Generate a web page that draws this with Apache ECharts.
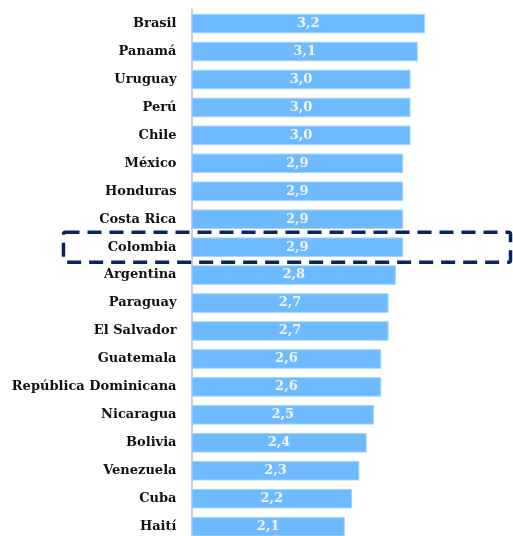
<!DOCTYPE html>
<html><head><meta charset="utf-8">
<script src="https://cdn.jsdelivr.net/npm/echarts@6/dist/echarts.min.js"></script>
<style>html,body{margin:0;padding:0;background:#fff}#c{width:513px;height:536px}</style>
</head><body><div id="c"></div>
<script>
const categories = ["Brasil","Panamá","Uruguay","Perú","Chile","México","Honduras","Costa Rica","Colombia","Argentina","Paraguay","El Salvador","Guatemala","República Dominicana","Nicaragua","Bolivia","Venezuela","Cuba","Haití"];
const values = [3.2,3.1,3.0,3.0,3.0,2.9,2.9,2.9,2.9,2.8,2.7,2.7,2.6,2.6,2.5,2.4,2.3,2.2,2.1];
const highlight = "Colombia";

const chart = echarts.init(document.getElementById('c'), null, {renderer:'canvas'});
const font = '"DejaVu Serif", serif';
chart.setOption({
  animation:false,
  grid:{left:191.5, top:9.6, width:292, height:531, outerBoundsMode:'none', containLabel:false},
  xAxis:{type:'value', min:0, max:4, show:false},
  yAxis:{type:'category', data:categories, inverse:true,
    axisLine:{show:true, lineStyle:{color:'#c8c8f2', width:2}},
    axisTick:{show:false},
    axisLabel:{margin:15, color:'#111', fontFamily:font, fontWeight:'bold', fontSize:13}
  },
  series:[{type:'bar', data:values, barWidth:19.5,
    itemStyle:{color:'#6ebaff', borderColor:'#a6d3ff', borderWidth:1},
    label:{show:true, position:'inside', color:'#f4f4fa', fontFamily:font, fontWeight:'bold', fontSize:13,
      formatter:p=>p.value.toFixed(1).replace('.',',')}
  }]
});
const yc = chart.convertToPixel({yAxisIndex:0}, highlight);
chart.setOption({graphic:[{type:'rect', shape:{x:63.5, y:yc-15, width:447, height:30, r:2},
  style:{fill:null, stroke:'#0b2460', lineWidth:3.5, lineDash:[14,8]}, z:100}]});
</script></body></html>
